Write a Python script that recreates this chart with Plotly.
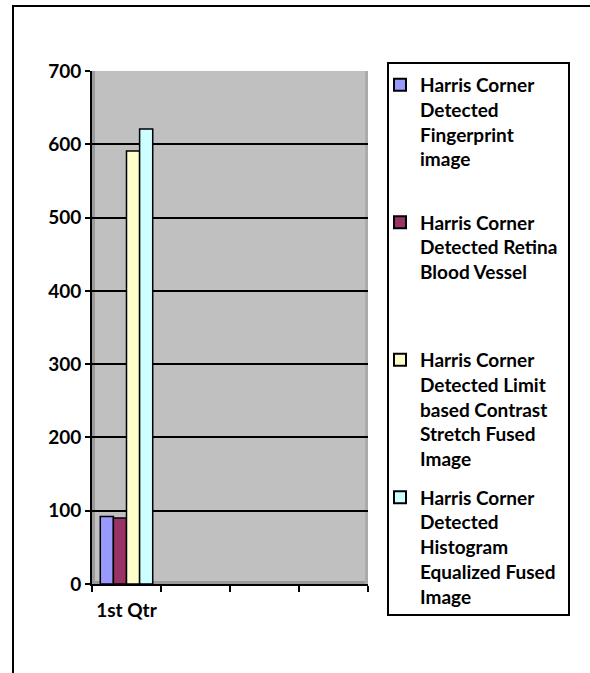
import plotly.graph_objects as go

categories = ["1st Qtr", " ", "  ", "   "]
series_names = [
    "Harris Corner<br>Detected<br>Fingerprint<br>image<br> ",
    "Harris Corner<br>Detected Retina<br>Blood Vessel<br> <br> ",
    "Harris Corner<br>Detected Limit<br>based Contrast<br>Stretch Fused<br>Image",
    "Harris Corner<br>Detected<br>Histogram<br>Equalized Fused<br>Image",
]
series_values = [
    [92, None, None, None],
    [90, None, None, None],
    [591, None, None, None],
    [621, None, None, None],
]
colors = ["#9999FF", "#993366", "#FFFFCC", "#CCFFFF"]
y_ticks = [0, 100, 200, 300, 400, 500, 600, 700]

W, H = 590, 673
L, R, T, B = 92, 222, 71, 89
pw = W - L - R
ph = H - T - B


def px_x(v):
    return (v - L) / pw


def px_y(v):
    return (H - B - v) / ph


fig = go.Figure()
for i, (name, vals, col) in enumerate(zip(series_names, series_values, colors)):
    fig.add_trace(go.Bar(
        x=categories, y=vals, name=name,
        legendgroup="g%d" % i,
        marker=dict(color=col, line=dict(color="black", width=1.5)),
    ))

font = "Lato, 'Liberation Sans', Arial, sans-serif"

fig.update_layout(
    width=W, height=H,
    margin=dict(l=L, r=R, t=T, b=B, pad=0),
    paper_bgcolor="white",
    plot_bgcolor="#C0C0C0",
    barmode="group",
    bargap=0.24,
    bargroupgap=0,
    showlegend=True,
    legend=dict(
        x=px_x(380), xanchor="left",
        y=px_y(66), yanchor="top",
        bgcolor="rgba(0,0,0,0)",
        borderwidth=0,
        font=dict(family=font, size=19, color="black", weight="bold"),
        valign="top",
        tracegroupgap=11,
        itemsizing="constant",
        maxheight=640,
    ),
    xaxis=dict(
        type="category",
        categoryorder="array", categoryarray=categories,
        showline=True, linecolor="black", linewidth=2,
        ticks="outside", tickson="boundaries", ticklen=6, tickwidth=2, tickcolor="black",
        showgrid=False,
        tickangle=0,
        tickfont=dict(family=font, size=19, color="black", weight="bold"),
        ticklabelstandoff=8,
        range=[-0.5, 3.5],
    ),
    yaxis=dict(
        range=[0, 700],
        tickvals=y_ticks,
        showline=True, linecolor="black", linewidth=2,
        ticks="outside", ticklen=5, tickwidth=2, tickcolor="black",
        showgrid=True, gridcolor="black", gridwidth=2,
        zeroline=False,
        tickfont=dict(family=font, size=19, color="black", weight="bold"),
    ),
    shapes=[
        # outer chart frame (clipped at right and bottom)
        dict(type="rect", xref="paper", yref="paper",
             x0=px_x(13), x1=px_x(620), y0=px_y(700), y1=px_y(6),
             line=dict(color="black", width=2), fillcolor="rgba(0,0,0,0)", layer="below"),
        # 3D wall side and floor
        dict(type="rect", xref="paper", yref="paper",
             x0=0, x1=px_x(95), y0=0, y1=1,
             line=dict(width=0), fillcolor="#9A9A9A", layer="below"),
        dict(type="rect", xref="paper", yref="paper",
             x0=0, x1=1, y0=0, y1=px_y(581),
             line=dict(width=0), fillcolor="#9A9A9A", layer="below"),
        dict(type="rect", xref="paper", yref="paper",
             x0=px_x(365), x1=1, y0=0, y1=1,
             line=dict(width=0), fillcolor="#ABABAB", layer="below"),
        # legend box
        dict(type="rect", xref="paper", yref="paper",
             x0=px_x(388), x1=px_x(569), y0=px_y(615), y1=px_y(63),
             line=dict(color="black", width=2), fillcolor="white", layer="above"),
    ],
)

fig.write_html(
    "out.html",
    config={"displayModeBar": False},
    post_script="document.body.style.margin='0';document.body.style.overflow='hidden';",
)
